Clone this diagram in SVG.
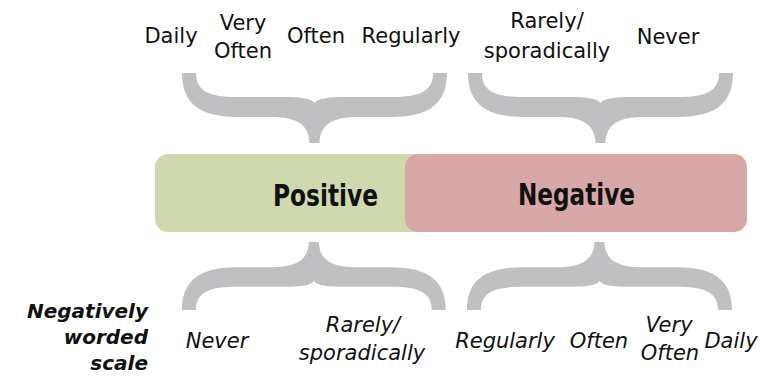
<svg xmlns="http://www.w3.org/2000/svg" width="784" height="376" viewBox="0 0 784 376">
<defs>
<style>
.t{font-family:"DejaVu Sans","Verdana",sans-serif;font-size:21px;fill:#111;text-anchor:middle}
.i{font-style:italic}
.b{font-family:"DejaVu Sans Condensed","DejaVu Sans",sans-serif;font-weight:bold;font-size:30px;fill:#111;text-anchor:middle}
.lab{font-family:"DejaVu Sans","Verdana",sans-serif;font-size:20px;font-style:italic;font-weight:bold;fill:#111;text-anchor:end}
.br{fill:#BFC0C2}
</style>
<path id="brace" d="M0,0 H14 C14,17 25,24 55,24 H100 C118,24 129,25 132.5,30 C136,25 147,24 165,24 H210 C240,24 251,17 251,0 H265 C265,28 250,44 210,44 H175 C150,44 138,52 137.5,70 H127.5 C127,52 115,44 90,44 H55 C15,44 0,28 0,0 Z"/>
</defs>
<rect width="784" height="376" fill="#fff"/>
<g id="connectors">
<use href="#brace" class="br" transform="translate(182,73)"/>
<use href="#brace" class="br" transform="translate(468,73)"/>
<use href="#brace" class="br" transform="translate(182,310) scale(0.995,-0.97)"/>
<use href="#brace" class="br" transform="translate(467,310) scale(1,-0.97)"/>
</g>
<g id="positive">
<rect x="155" y="154" width="270" height="78" rx="13" fill="#CFD9AD"/>
<text class="b" x="325.5" y="206" textLength="105" lengthAdjust="spacingAndGlyphs">Positive</text>
</g>
<g id="negative">
<rect x="405" y="154" width="342" height="78" rx="13" fill="#D8A8A8"/>
<text class="b" x="576.5" y="205" textLength="117" lengthAdjust="spacingAndGlyphs">Negative</text>
</g>
<g id="top-labels">
<text class="t" x="171" y="43">Daily</text>
<text class="t" x="243" y="30">Very</text>
<text class="t" x="243" y="58">Often</text>
<text class="t" x="316" y="43">Often</text>
<text class="t" x="411" y="43">Regularly</text>
<text class="t" x="547" y="28">Rarely/</text>
<text class="t" x="547" y="58">sporadically</text>
<text class="t" x="668" y="44">Never</text>
</g>
<g id="scale-label">
<text class="lab" x="148" y="318">Negatively</text>
<text class="lab" x="148" y="344">worded</text>
<text class="lab" x="148" y="370">scale</text>
</g>
<g id="bottom-labels">
<text class="t i" x="217" y="348">Never</text>
<text class="t i" x="363" y="332">Rarely/</text>
<text class="t i" x="362" y="360">sporadically</text>
<text class="t i" x="505" y="348">Regularly</text>
<text class="t i" x="599" y="348">Often</text>
<text class="t i" x="669" y="332">Very</text>
<text class="t i" x="670" y="360">Often</text>
<text class="t i" x="731" y="348">Daily</text>
</g>
</svg>
